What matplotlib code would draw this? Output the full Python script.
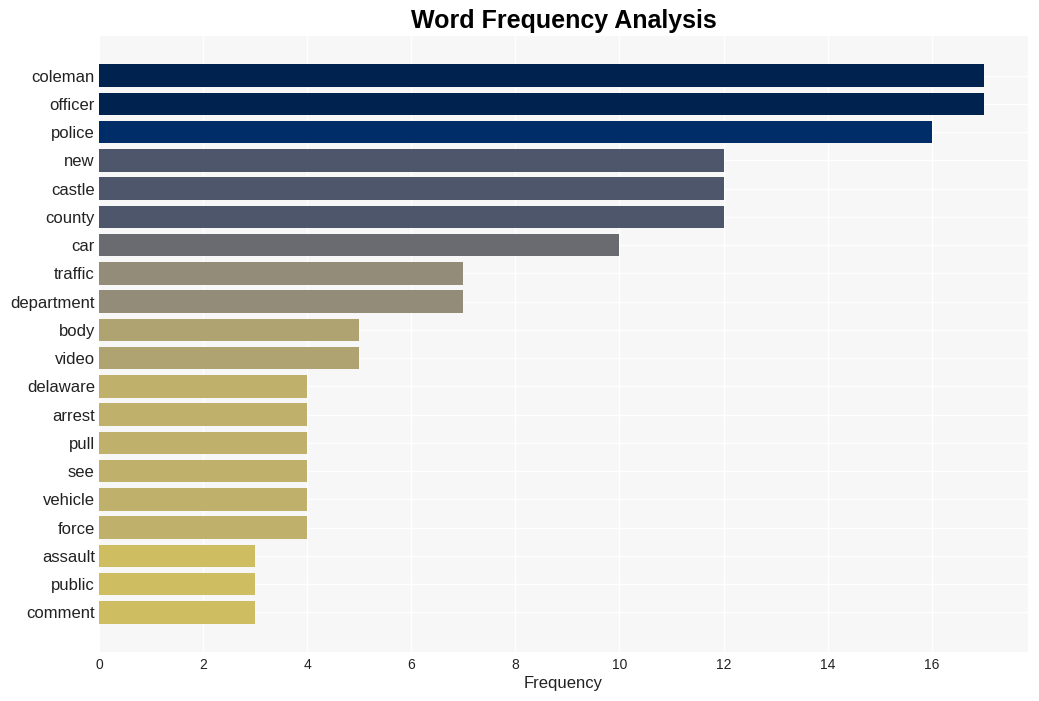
import matplotlib.pyplot as plt
from matplotlib.colors import Normalize

words = ['coleman', 'officer', 'police', 'new', 'castle', 'county', 'car',
         'traffic', 'department', 'body', 'video', 'delaware', 'arrest',
         'pull', 'see', 'vehicle', 'force', 'assault', 'public', 'comment']
counts = [17, 17, 16, 12, 12, 12, 10, 7, 7, 5, 5, 4, 4, 4, 4, 4, 4, 3, 3, 3]

plt.rcParams['font.family'] = ['Liberation Sans', 'DejaVu Sans']

fig = plt.figure(figsize=(10.39, 7.01), dpi=100)
ax = fig.add_axes([99 / 1039, 1 - 652 / 701, (1028 - 99) / 1039, (652 - 36) / 701])

norm = Normalize(vmin=0, vmax=max(counts))
cmap = plt.get_cmap('cividis_r')
colors = [cmap(norm(c)) for c in counts]

y = list(range(len(words)))
ax.barh(y, counts, height=0.8, color=colors, zorder=3)

ax.set_facecolor('#f7f7f7')
ax.grid(True, color='white', linewidth=1, zorder=0)
for s in ax.spines.values():
    s.set_visible(False)

ax.set_yticks(y)
ax.set_yticklabels(words, fontsize=12, color='#222222')
ax.set_ylim(len(words) - 1 + 1.4, -1.4)
ax.set_xlim(0, max(counts) * 1.05)
ax.set_xticks(range(0, 17, 2))
ax.tick_params(axis='x', labelsize=10, length=0, pad=4, labelcolor='#222222')
ax.tick_params(axis='y', length=0, pad=3)
ax.set_xlabel('Frequency', fontsize=12, labelpad=3, color='#222222')
ax.set_title('Word Frequency Analysis', fontsize=18, fontweight='bold', pad=6)

fig.savefig('out.png', dpi=100)
